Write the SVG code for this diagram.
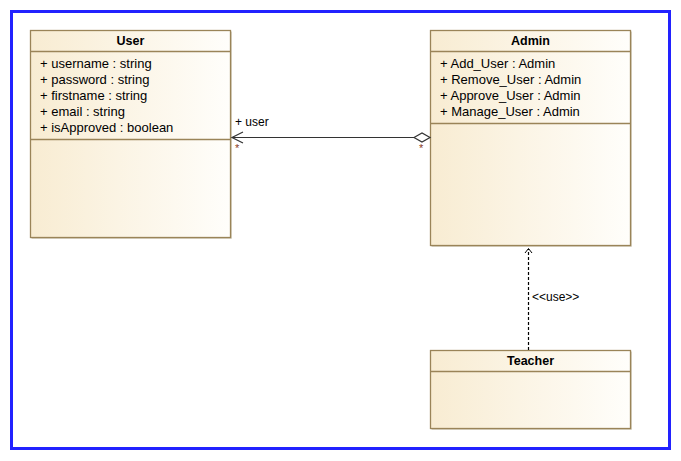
<svg xmlns="http://www.w3.org/2000/svg" width="681" height="461" viewBox="0 0 681 461">
<defs>
<linearGradient id="fill" x1="0" y1="0" x2="1" y2="0">
<stop offset="0" stop-color="#f8ecd2"/>
<stop offset="1" stop-color="#fffefb"/>
</linearGradient>
<style>
.box{fill:url(#fill);stroke:#9a8458;stroke-width:1.3}
.shadow{fill:none;stroke:#d8d2c4;stroke-width:1}
.sep{stroke:#9a8458;stroke-width:1.3}
.t{font-family:"Liberation Sans",Arial,sans-serif;font-size:13px;fill:#000}
.h{font-family:"Liberation Sans",Arial,sans-serif;font-size:12.5px;font-weight:bold;fill:#000;text-anchor:middle}
.lbl{font-family:"Liberation Sans",Arial,sans-serif;font-size:12px;fill:#000}
.mul{font-family:"Liberation Sans",Arial,sans-serif;font-size:11px;fill:#8a3a1a}
.line{stroke:#333;stroke-width:1.2;fill:none}
</style>
</defs>
<rect x="0" y="0" width="681" height="461" fill="#fff"/>
<rect x="11.5" y="11.5" width="658" height="437" fill="none" stroke="#2222ff" stroke-width="3"/>

<g id="User">
<path class="shadow" d="M231.5 31.5 V238.5 H31.5"/>
<rect class="box" x="30.5" y="30.5" width="200" height="207"/>
<line class="sep" x1="30.5" y1="51.5" x2="230.5" y2="51.5"/>
<line class="sep" x1="30.5" y1="139.5" x2="230.5" y2="139.5"/>
<text class="h" x="130.5" y="45">User</text>
<text class="t" x="40" y="68">+ username : string</text>
<text class="t" x="40" y="84">+ password : string</text>
<text class="t" x="40" y="100">+ firstname : string</text>
<text class="t" x="40" y="116">+ email : string</text>
<text class="t" x="40" y="132">+ isApproved : boolean</text>
</g>

<g id="Admin">
<path class="shadow" d="M631.5 31.5 V246.5 H431.5"/>
<rect class="box" x="430.5" y="30.5" width="200" height="215"/>
<line class="sep" x1="430.5" y1="51.5" x2="630.5" y2="51.5"/>
<line class="sep" x1="430.5" y1="123.5" x2="630.5" y2="123.5"/>
<text class="h" x="530.5" y="45">Admin</text>
<text class="t" x="440" y="68">+ Add_User : Admin</text>
<text class="t" x="440" y="84">+ Remove_User : Admin</text>
<text class="t" x="440" y="100">+ Approve_User : Admin</text>
<text class="t" x="440" y="116">+ Manage_User : Admin</text>
</g>

<g id="Teacher">
<path class="shadow" d="M631.5 351.5 V429.5 H431.5"/>
<rect class="box" x="430.5" y="350.5" width="200" height="78"/>
<line class="sep" x1="430.5" y1="371.5" x2="630.5" y2="371.5"/>
<text class="h" x="530.5" y="365">Teacher</text>
</g>

<g id="connectors">
<line class="line" x1="232" y1="137.5" x2="414" y2="137.5"/>
<path class="line" d="M243 132 L232 137.5 L243 143"/>
<path d="M414 137.5 L422 133 L430 137.5 L422 142 Z" fill="#fff" stroke="#333" stroke-width="1.2"/>
<text class="lbl" x="235" y="126">+ user</text>
<text class="mul" x="235" y="152">*</text>
<text class="mul" x="419" y="152">*</text>
<line x1="528.5" y1="350" x2="528.5" y2="249" stroke="#000" stroke-width="1.2" stroke-dasharray="3,2"/>
<path d="M525 253 L528.5 248.5 L532 253" fill="none" stroke="#000" stroke-width="1"/>
<text class="lbl" x="532" y="301" font-size="11">&lt;&lt;use&gt;&gt;</text>
</g>
</svg>
